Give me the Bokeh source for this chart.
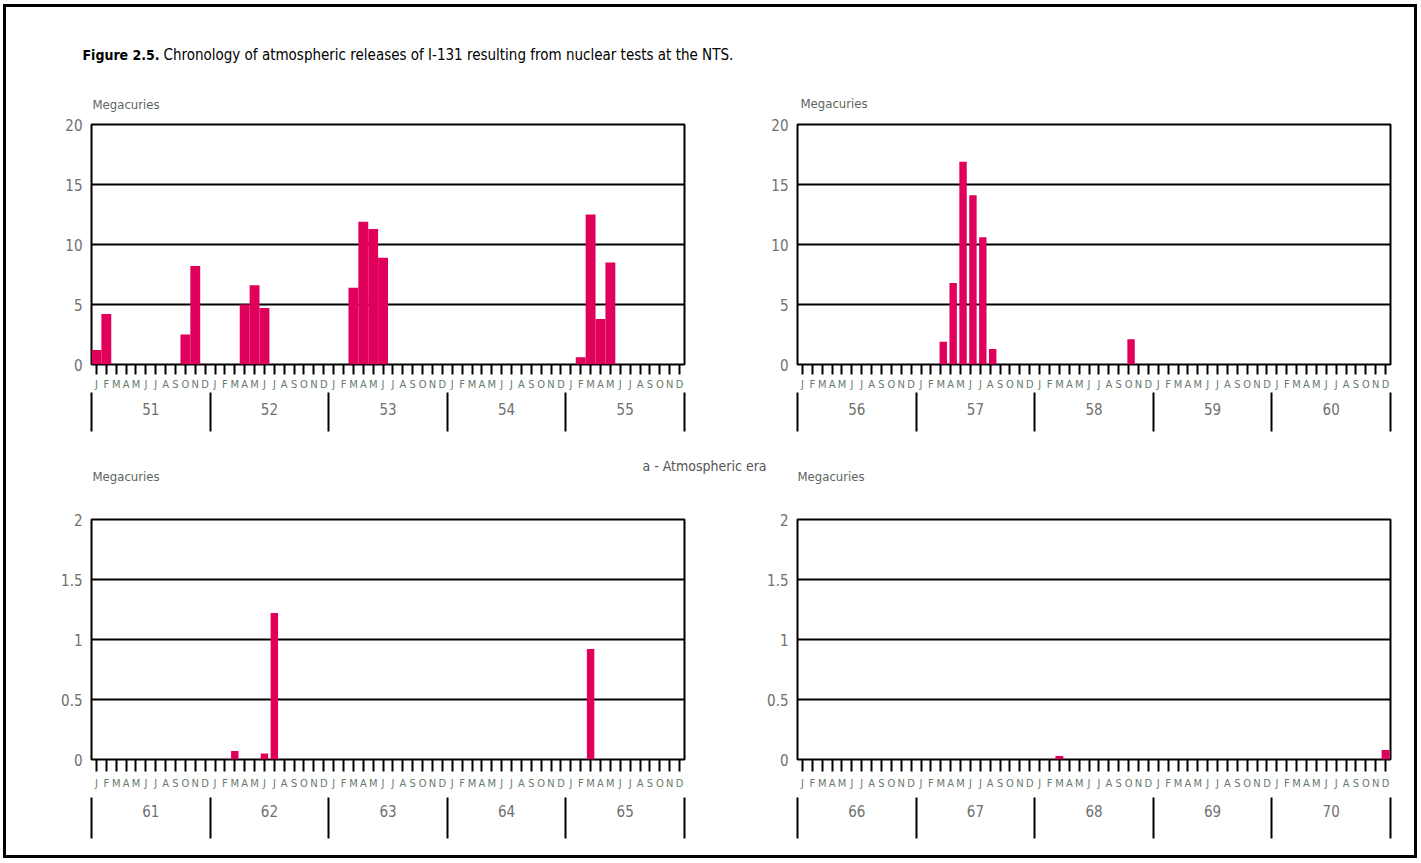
from bokeh.plotting import figure
from bokeh.models import Range1d, LinearAxis, FixedTicker, Grid
from bokeh.layouts import column, row
from bokeh.embed import file_html
from bokeh.resources import INLINE
from bokeh.core.properties import value

# ---------------- data (Megacuries of I-131 per month) ----------------
month_letters = ["J", "F", "M", "A", "M", "J", "J", "A", "S", "O", "N", "D"]

years_a = ["51", "52", "53", "54", "55"]
month_idx_a = [0, 1, 9, 10, 15, 16, 17, 26, 27, 28, 29, 49, 50, 51, 52]
mci_a = [1.2, 4.2, 2.5, 8.2, 5.0, 6.6, 4.7, 6.4, 11.9, 11.3, 8.9, 0.6, 12.5, 3.8, 8.5]

years_b = ["56", "57", "58", "59", "60"]
month_idx_b = [14, 15, 16, 17, 18, 19, 33]
mci_b = [1.9, 6.8, 16.9, 14.1, 10.6, 1.3, 2.1]

years_c = ["61", "62", "63", "64", "65"]
month_idx_c = [14, 17, 18, 50]
mci_c = [0.07, 0.05, 1.22, 0.92]

years_d = ["66", "67", "68", "69", "70"]
month_idx_d = [26, 59]
mci_d = [0.03, 0.08]

yticks_top = [0, 5, 10, 15, 20]
ylabels_top = ["0", "5", "10", "15", "20"]
yticks_bot = [0, 0.5, 1, 1.5, 2]
ylabels_bot = ["0", "0.5", "1", "1.5", "2"]

title_bold = "Figure 2.5."
title_text = "Chronology of atmospheric releases of I-131 resulting from nuclear tests at the NTS."
unit_label = "Megacuries"
era_label = "a - Atmospheric era"

# ---------------- styling ----------------
FONT = "DejaVu Sans Condensed"
BAR = "#E0005C"
GRAY = "#707070"
LETTER = "#687a6c"
UNIT = "#5c665e"

OX, OY = 6, 7            # content origin on the page (inside the border)
W = 1408
LEFT_W, RIGHT_W = 744, 664
HEAD_Y, HEAD_H = 7, 105
ROW1_Y, ROW1_H = 112, 335
MID_Y, MID_H = 447, 43
ROW2_Y, ROW2_H = 490, 365
FW, FH = 593, 240


def text_strip(y0, h):
    """A plain figure whose ranges are page pixels, used for free-standing texts."""
    f = figure(width=W, height=h, x_range=Range1d(OX, OX + W), y_range=Range1d(y0 + h, y0),
               output_backend="svg", toolbar_location=None, x_axis_location=None,
               y_axis_location=None, min_border=0, title=None)
    f.outline_line_color = None
    f.xgrid.visible = False
    f.ygrid.visible = False
    return f


def make_panel(fig_x, fig_y, fig_w, fig_h, fx, fy, ymax, yticks, ylabels, years,
               idx, vals, bar_w, shift, ax):
    p = figure(width=fig_w, height=fig_h, x_range=Range1d(0, 60), y_range=Range1d(0, ymax),
               output_backend="svg", toolbar_location=None, title=None,
               x_axis_location=None, y_axis_location=None)
    p.min_border_left = fx - fig_x
    p.min_border_top = fy - fig_y
    p.min_border_right = fig_w - (fx - fig_x) - FW
    p.min_border_bottom = fig_h - (fy - fig_y) - FH
    p.outline_line_color = "black"
    p.outline_line_width = 2
    p.background_fill_color = "white"
    p.border_fill_color = "white"
    p.xgrid.visible = False
    p.ygrid.visible = False

    yax = LinearAxis(ticker=FixedTicker(ticks=yticks),
                     major_label_overrides={t: l for t, l in zip(yticks, ylabels)},
                     axis_line_color=None, major_tick_line_color=None,
                     major_tick_in=0, major_tick_out=0, minor_tick_line_color=None,
                     major_label_standoff=9, major_label_text_font=FONT,
                     major_label_text_font_size="15px", major_label_text_color=GRAY)
    p.add_layout(yax, "left")

    grid = Grid(dimension=1, ticker=FixedTicker(ticks=yticks[1:-1]),
                grid_line_color="black", grid_line_width=2)
    p.add_layout(grid)

    mt = [i + 0.5 for i in range(60)]
    mx = LinearAxis(ticker=FixedTicker(ticks=mt),
                    major_label_overrides={t: month_letters[i % 12] for i, t in enumerate(mt)},
                    axis_line_color=None, major_tick_out=ax["tick"], major_tick_in=0,
                    major_tick_line_width=2, major_tick_line_color="black",
                    minor_tick_line_color=None,
                    major_label_standoff=ax["mstand"], major_label_text_font=FONT,
                    major_label_text_font_size="11px", major_label_text_color=LETTER)
    p.add_layout(mx, "below")

    yc = [6 + 12 * i for i in range(5)]
    yx = LinearAxis(ticker=FixedTicker(ticks=yc),
                    major_label_overrides={t: l for t, l in zip(yc, years)},
                    axis_line_color=None, major_tick_line_color=None,
                    major_tick_out=0, major_tick_in=0, minor_tick_line_color=None,
                    major_label_standoff=ax["ystand"], major_label_text_font=FONT,
                    major_label_text_font_size="15px", major_label_text_color=GRAY)
    p.add_layout(yx, "below")

    yb = [12 * i for i in range(6)]
    sx = LinearAxis(ticker=FixedTicker(ticks=yb),
                    major_label_overrides={t: "" for t in yb},
                    axis_line_color=None, major_tick_line_color="black",
                    major_tick_line_width=2, major_tick_in=ax["sep_in"],
                    major_tick_out=ax["sep_out"], minor_tick_line_color=None,
                    major_label_standoff=0, major_label_text_font_size="0px")
    p.add_layout(sx, "below")

    p.vbar(x=[m + 0.5 + shift for m in idx], width=bar_w, top=vals, bottom=0,
           fill_color=BAR, line_color=None)
    return p


ax_top = dict(tick=10, mstand=3, ystand=9, sep_in=25, sep_out=14)
ax_bot = dict(tick=12, mstand=5, ystand=12, sep_in=22, sep_out=19)

pa = make_panel(OX, ROW1_Y, LEFT_W, ROW1_H, 91, 124, 20, yticks_top, ylabels_top,
                years_a, month_idx_a, mci_a, 1.0, 0.0, ax_top)
pb = make_panel(OX + LEFT_W, ROW1_Y, RIGHT_W, ROW1_H, 797, 124, 20, yticks_top, ylabels_top,
                years_b, month_idx_b, mci_b, 0.75, 0.25, ax_top)
pc = make_panel(OX, ROW2_Y, LEFT_W, ROW2_H, 91, 519, 2, yticks_bot, ylabels_bot,
                years_c, month_idx_c, mci_c, 0.75, 0.0, ax_bot)
pd = make_panel(OX + LEFT_W, ROW2_Y, RIGHT_W, ROW2_H, 797, 519, 2, yticks_bot, ylabels_bot,
                years_d, month_idx_d, mci_d, 0.8, 0.0, ax_bot)

# header: figure title + units of the top panels
h = text_strip(HEAD_Y, HEAD_H)
h.text(x=[82], y=[54], text=[title_bold], text_font=value(FONT), text_font_style="bold",
       text_font_size="14px", text_baseline="middle", text_color="black")
h.text(x=[163], y=[54], text=[title_text], text_font=value(FONT),
       text_font_size="15px", text_baseline="middle", text_color="black")
h.text(x=[92, 800], y=[104, 103], text=[unit_label, unit_label], text_font=value(FONT),
       text_font_size="13px", text_baseline="middle", text_color=UNIT)

# middle strip: era caption + units of the bottom panels
m = text_strip(MID_Y, MID_H)
m.text(x=[704], y=[465], text=[era_label], text_font=value(FONT), text_font_size="14px",
       text_baseline="middle", text_align="center", text_color="#555555")
m.text(x=[92, 797], y=[476, 476], text=[unit_label, unit_label], text_font=value(FONT),
       text_font_size="13px", text_baseline="middle", text_color=UNIT)

layout = column(h, row(pa, pb), m, row(pc, pd),
                styles={"border": "3px solid black", "margin-left": "3px", "margin-top": "4px"})

open("out.html", "w").write(file_html(layout, INLINE))
